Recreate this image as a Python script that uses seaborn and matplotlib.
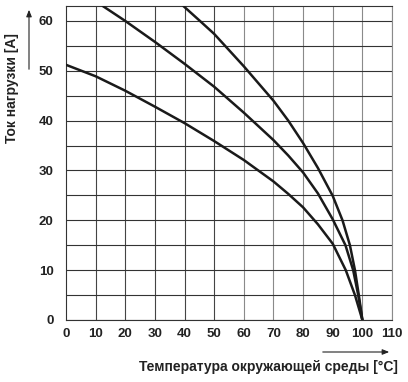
import matplotlib
matplotlib.use("Agg")
import matplotlib.pyplot as plt
import seaborn as sns
import pandas as pd
import numpy as np

# Data
t_low = [0, 10, 20, 30, 40, 50, 60, 70, 75, 80, 85, 90, 94.4, 97.5, 100]
i_low = [51.2, 48.9, 46.0, 42.8, 39.5, 35.9, 32.1, 27.8, 25.3, 22.6, 19.2, 15.3, 10, 5, 0]

t_mid = [12.4, 20, 30, 40, 50, 60, 70, 75, 80, 85, 90, 94.3, 96.9, 98.6, 100]
i_mid = [63, 60, 55.8, 51.4, 46.8, 41.6, 36.1, 33.0, 29.6, 25.4, 20.2, 15, 10, 5, 0]

t_up = [39.6, 45.2, 50, 60, 70, 75, 80, 85, 90, 93.3, 95.8, 97.5, 98.8, 100]
i_up = [63, 60, 57.4, 50.9, 44.0, 40.0, 35.5, 30.5, 24.9, 20, 15, 10, 5, 0]

x_ticks = list(range(0, 111, 10))
y_ticks = list(range(0, 61, 10))
x_label = "Температура окружающей среды [°C]"
y_label = "Ток нагрузки [A]"

df = pd.concat([
    pd.DataFrame({"T": t_low, "I": i_low, "curve": "low"}),
    pd.DataFrame({"T": t_mid, "I": i_mid, "curve": "mid"}),
    pd.DataFrame({"T": t_up, "I": i_up, "curve": "up"}),
])

sns.set_style("white")
plt.rcParams['font.family'] = ['Liberation Sans', 'DejaVu Sans']

fig = plt.figure(figsize=(4.08, 3.82), dpi=100)
ax = fig.add_axes([66/408, 62/382, 326/408, 314/382])

ax.set_xlim(0, 110)
ax.set_ylim(0, 63)
ax.set_xticks(x_ticks)
ax.set_yticks(y_ticks)
ax.set_yticks(np.arange(5, 63, 10), minor=True)
ax.grid(True, which="both", axis="y", color="#333333", linewidth=0.8)
for xv in x_ticks[1:]:
    ax.axvline(xv, color="#444444" if xv <= 50 else "#8a8a8a", linewidth=0.8, zorder=0.5)

sns.lineplot(data=df, x="T", y="I", hue="curve", estimator=None,
             sort=False, palette=["#1a1a1a"]*3, linewidth=1.8, legend=False, ax=ax, zorder=3)
for ln in ax.lines:
    ln.set_solid_joinstyle("round")

ax.tick_params(axis="y", which="major", length=5, width=0.8, color="#333333", pad=4)
ax.tick_params(axis="y", which="minor", length=0)
ax.tick_params(axis="x", length=0, pad=6)
for lab in ax.get_xticklabels() + ax.get_yticklabels():
    lab.set_fontweight("bold")
    lab.set_fontsize(9.5)
    lab.set_color("#222222")
for s in ax.spines.values():
    s.set_color("#333333")
    s.set_linewidth(0.8)
ax.spines["right"].set_color("#8a8a8a")
ax.set_xlabel("")
ax.set_ylabel("")

fig.text(268/408, 1 - 367/382, x_label, ha="center", va="center",
         fontsize=10, fontweight="bold", color="#222222")
fig.text(12/408, 1 - 88/382, y_label, ha="center", va="center", rotation=90,
         fontsize=10, fontweight="bold", color="#222222")

fig.patches.append(matplotlib.patches.FancyArrowPatch(
    (320/408, 1 - 352/382), (392/408, 1 - 352/382), transform=fig.transFigure,
    arrowstyle="-|>,head_length=4,head_width=1.6", color="#222222", linewidth=0.8))
fig.patches.append(matplotlib.patches.FancyArrowPatch(
    (29/408, 1 - 72/382), (29/408, 1 - 7/382), transform=fig.transFigure,
    arrowstyle="-|>,head_length=4,head_width=1.6", color="#222222", linewidth=0.8))

fig.savefig("out.png", dpi=100)
